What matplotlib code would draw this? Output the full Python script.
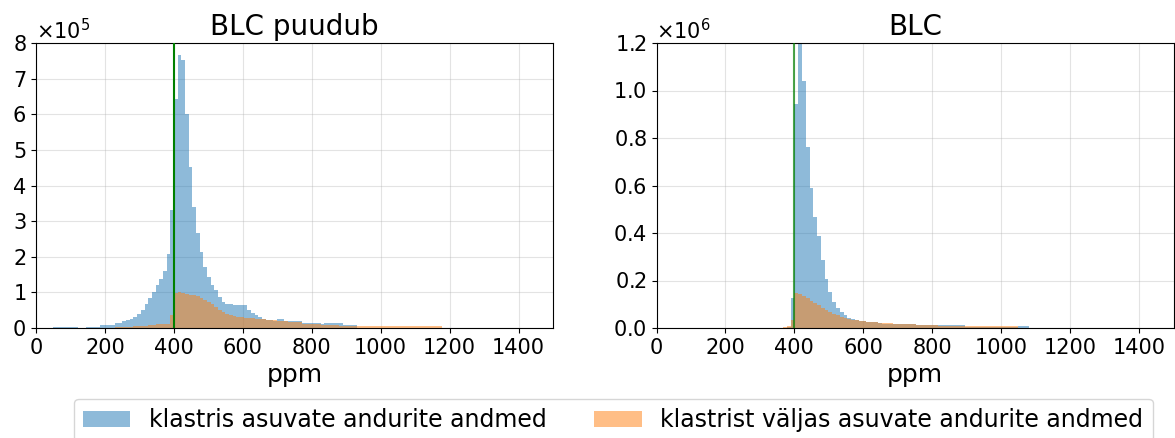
import numpy as np
import matplotlib
matplotlib.use("Agg")
import matplotlib.pyplot as plt

# bin setup (ppm): first bin edge and bin width for each panel
left_start, left_width = 48.55, 10.65
right_start, right_width = 356.0, 11.0

# counts in units of 1e5
left_in = [0.04, 0.04, 0.04, 0.04, 0.04, 0.04, 0.04,
           0.01, 0.01,
           0.04, 0.04, 0.04, 0.04,
           0.08, 0.08, 0.09, 0.09,
           0.13, 0.13, 0.21, 0.23,
           0.26, 0.31, 0.39, 0.50, 0.67, 0.83, 1.02, 1.21, 1.37, 1.61, 2.08, 3.31,
           6.42, 7.66, 7.52, 6.02, 4.52, 3.40, 2.67, 2.14, 1.71, 1.43, 1.20, 1.06,
           0.87, 0.73, 0.68, 0.66, 0.65, 0.65, 0.65, 0.65,
           0.50, 0.42, 0.36, 0.31, 0.26, 0.23, 0.23, 0.20, 0.24, 0.24,
           0.20, 0.20, 0.20, 0.20, 0.20, 0.14, 0.14, 0.13, 0.13, 0.13, 0.11,
           0.13, 0.13, 0.13, 0.13, 0.13, 0.085, 0.085, 0.085, 0.085,
           0.01, 0.01, 0.01, 0.01, 0.01, 0.01, 0.01, 0.01, 0.01, 0.01,
           0.01, 0.01, 0.01, 0.01, 0.01, 0.01, 0.01]

left_out = [0, 0, 0, 0, 0, 0, 0, 0, 0, 0, 0, 0, 0, 0, 0, 0,
            0.01, 0.02, 0.03, 0.03, 0.04, 0.04,
            0.05, 0.06, 0.07, 0.07,
            0.08, 0.09, 0.10, 0.10, 0.11, 0.12, 0.37,
            0.99, 1.01, 0.98, 0.96, 0.94, 0.92, 0.90, 0.85, 0.80, 0.73, 0.66,
            0.59, 0.51, 0.45, 0.40, 0.36, 0.33, 0.32, 0.30, 0.29, 0.28,
            0.27, 0.26, 0.25, 0.24, 0.23, 0.23, 0.22,
            0.21, 0.20, 0.19, 0.18, 0.18, 0.17, 0.16,
            0.12, 0.11, 0.11, 0.10, 0.10, 0.09, 0.09, 0.09,
            0.08, 0.08, 0.07, 0.07, 0.07, 0.07, 0.07,
            0.06, 0.06, 0.06, 0.06, 0.06, 0.06, 0.06, 0.06, 0.06, 0.06,
            0.055, 0.055, 0.055, 0.055, 0.055, 0.055,
            0.05, 0.05, 0.05, 0.05, 0.05, 0.05, 0.05]

right_in = [0.0, 0.02, 0.04, 1.28,
            9.45, 14.0, 10.4, 7.62, 5.90, 4.67, 3.86, 2.88, 2.08, 1.52, 1.09,
            0.84, 0.67, 0.53, 0.42, 0.36, 0.34, 0.30, 0.28, 0.26, 0.25, 0.24, 0.20,
            0.18, 0.18, 0.18, 0.18, 0.18, 0.18, 0.18, 0.18, 0.18,
            0.13, 0.13, 0.13, 0.13, 0.13, 0.13,
            0.13, 0.13, 0.13, 0.13, 0.13, 0.13, 0.13,
            0.05, 0.05, 0.05, 0.05, 0.05, 0.05, 0.05, 0.05, 0.05, 0.05,
            0.05, 0.05, 0.05, 0.05,
            0.07, 0.07, 0.07, 0.0]

right_out = [0.0, 0.03, 0.10, 0.32,
             1.47, 1.43, 1.35, 1.25, 1.15, 1.05, 0.95, 0.85, 0.75, 0.66, 0.60,
             0.53, 0.47, 0.42, 0.38, 0.35, 0.33,
             0.30, 0.28, 0.27, 0.26, 0.25, 0.22,
             0.20, 0.19, 0.19, 0.18, 0.18, 0.17, 0.17, 0.16, 0.15,
             0.13, 0.12, 0.12, 0.12, 0.11, 0.11,
             0.10, 0.10, 0.10, 0.10, 0.10, 0.10, 0.10,
             0.08, 0.08, 0.07, 0.07, 0.07, 0.07, 0.07, 0.07, 0.07, 0.07,
             0.07, 0.07, 0.07, 0.07]

titles = ["BLC puudub", "BLC"]
labels = ["klastris asuvate andurite andmed", "klastrist väljas asuvate andurite andmed"]
threshold = 400
left_yticks = [0, 1, 2, 3, 4, 5, 6, 7, 8]
right_yticks = [0, 2, 4, 6, 8, 10, 12]


def edges_for(start, width, counts):
    return start + width * np.arange(len(counts) + 1)


fig = plt.figure(figsize=(11.75, 4.38), dpi=100)
ax1 = fig.add_axes([36 / 1175, 110 / 438, 517 / 1175, 285 / 438])
ax2 = fig.add_axes([656.5 / 1175, 110 / 438, 517 / 1175, 285 / 438])

panels = [
    (ax1, left_start, left_width, left_in, left_out, 8e5, left_yticks, 1.0),
    (ax2, right_start, right_width, right_in, right_out, 1.2e6, right_yticks, 0.7),
]

for i, (ax, start, width, c_in, c_out, ymax, yt, line_alpha) in enumerate(panels):
    e_in = edges_for(start, width, c_in)
    e_out = edges_for(start, width, c_out)
    ax.hist(e_in[:-1], bins=e_in, weights=np.array(c_in) * 1e5,
            alpha=0.5, color="C0", label=labels[0])
    ax.hist(e_out[:-1], bins=e_out, weights=np.array(c_out) * 1e5,
            alpha=0.5, color="C1", label=labels[1])
    ax.axvline(threshold, color="green", linewidth=1.5, alpha=line_alpha, zorder=5)
    ax.set_xlim(0, 1500)
    ax.set_ylim(0, ymax)
    ax.set_xticks(np.arange(0, 1500, 200))
    ax.set_yticks(np.array(yt) * 1e5)
    ax.grid(True, alpha=0.35)
    ax.set_axisbelow(True)
    ax.ticklabel_format(axis="y", style="sci", scilimits=(0, 0), useMathText=True)
    ax.yaxis.get_offset_text().set_fontsize(15)
    ax.tick_params(labelsize=15)
    ax.set_xlabel("ppm", fontsize=18)
    ax.set_title(titles[i], fontsize=20)

handles, labs = ax1.get_legend_handles_labels()
fig.legend(handles, labs, loc="lower center", bbox_to_anchor=(0.522, -0.035),
           ncol=2, fontsize=17)

fig.savefig("out.png", dpi=100)
